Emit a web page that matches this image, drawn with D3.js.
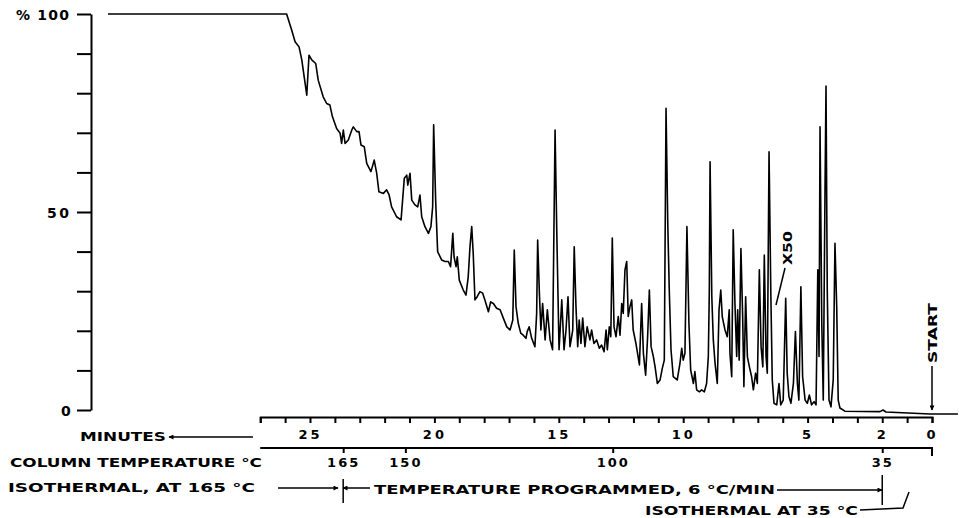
<!DOCTYPE html>
<html>
<head>
<meta charset="utf-8">
<script src="https://d3js.org/d3.v7.min.js"></script>
<style>
  body { margin:0; background:#fff; }
  svg { display:block; }
  text { font-family: "DejaVu Sans", sans-serif; font-weight: bold; fill: #000; }
  .axis path, .axis line { stroke: #000; stroke-width: 2; }
  .trace { fill: none; stroke: #000; stroke-width: 1.6; stroke-linejoin: round; }
  .note { stroke: #000; stroke-width: 1.5; fill: none; }
</style>
</head>
<body>
<script>
// chromatogram trace: [minutes, % response]
var chromatogram = [
  [33.12,100],[25.94,100],[25.74,96.0],[25.60,93.0],[25.44,91.7],[25.33,88.4],[25.13,79.5],[25.04,89.6],
  [24.93,88.4],[24.77,87.5],[24.67,83.3],[24.47,79.1],[24.33,77.4],[24.20,77.0],[24.10,74.1],[23.93,71.1],
  [23.79,69.9],[23.73,67.3],[23.66,70.7],[23.59,67.3],[23.46,68.2],[23.32,70.7],[23.26,71.5],[23.12,70.3],
  [23.03,70.3],[22.95,66.9],[22.82,66.5],[22.72,62.3],[22.55,60.2],[22.42,63.1],[22.32,59.8],[22.23,55.1],
  [22.05,54.7],[21.92,55.6],[21.82,54.3],[21.72,51.3],[21.52,48.8],[21.34,48.0],[21.21,58.5],[21.11,59.3],
  [21.07,56.8],[20.98,59.8],[20.91,53.0],[20.78,51.8],[20.67,51.3],[20.58,54.3],[20.51,48.8],[20.38,46.3],
  [20.24,44.6],[20.14,46.3],[20.07,51.3],[20.03,72.0],[19.95,53.0],[19.87,40.0],[19.71,37.9],[19.57,37.5],
  [19.44,37.5],[19.35,36.2],[19.26,44.6],[19.21,38.7],[19.13,36.2],[19.08,38.7],[19.00,32.8],[18.84,30.3],
  [18.73,29.0],[18.64,33.7],[18.57,41.2],[18.50,46.3],[18.44,39.6],[18.37,27.8],[18.28,28.6],[18.17,29.9],
  [18.06,29.5],[17.97,27.8],[17.83,24.8],[17.74,27.3],[17.63,26.9],[17.50,25.7],[17.36,25.3],[17.23,23.2],
  [17.09,21.0],[16.96,20.2],[16.85,22.7],[16.79,40.4],[16.72,26.1],[16.63,21.9],[16.53,19.4],[16.43,18.9],
  [16.32,18.1],[16.27,19.8],[16.19,21.0],[16.09,18.1],[15.96,16.0],[15.89,24.4],[15.85,42.9],[15.78,29.5],
  [15.72,20.2],[15.65,26.9],[15.55,17.7],[15.46,25.3],[15.35,17.7],[15.25,15.2],[15.15,70.7],[15.08,44.6],
  [14.99,15.2],[14.88,27.8],[14.79,15.2],[14.71,20.2],[14.63,28.6],[14.55,16.0],[14.44,20.2],[14.38,41.2],
  [14.31,26.1],[14.24,16.0],[14.18,22.7],[14.11,16.8],[14.04,23.2],[13.95,16.0],[13.86,21.0],[13.75,17.7],
  [13.68,20.2],[13.59,16.8],[13.48,17.7],[13.37,15.6],[13.28,16.4],[13.18,14.7],[13.10,20.2],[13.05,15.2],
  [12.97,21.0],[12.91,18.5],[12.85,43.4],[12.78,21.0],[12.70,18.5],[12.61,23.6],[12.54,18.9],[12.47,26.9],
  [12.41,24.4],[12.34,35.4],[12.27,37.5],[12.21,23.6],[12.14,26.1],[12.07,27.8],[12.01,20.2],[11.90,16.8],
  [11.76,11.4],[11.67,26.9],[11.60,14.3],[11.51,8.8],[11.43,18.5],[11.36,30.3],[11.29,16.0],[11.20,13.5],
  [11.13,10.9],[11.04,6.7],[10.93,7.6],[10.84,10.5],[10.76,12.6],[10.69,76.2],[10.62,47.1],[10.56,30.3],
  [10.49,15.2],[10.40,8.4],[10.24,7.6],[10.13,11.8],[10.06,15.6],[10.00,12.6],[9.93,14.3],[9.85,46.3],
  [9.77,21.9],[9.70,10.1],[9.59,6.7],[9.53,9.7],[9.46,5.1],[9.35,4.6],[9.26,5.1],[9.15,4.6],
  [9.06,6.7],[8.99,13.5],[8.95,30.3],[8.92,62.7],[8.85,28.6],[8.79,17.7],[8.72,11.8],[8.63,6.7],
  [8.56,25.3],[8.49,30.3],[8.43,23.6],[8.32,20.2],[8.23,18.5],[8.15,25.3],[8.12,14.3],[8.05,8.4],
  [7.99,45.5],[7.92,26.9],[7.85,13.5],[7.81,25.3],[7.75,12.6],[7.68,40.8],[7.61,23.6],[7.56,5.9],
  [7.49,28.6],[7.42,13.5],[7.34,10.9],[7.25,8.4],[7.18,5.1],[7.09,9.3],[7.02,6.7],[6.94,35.4],
  [6.87,16.0],[6.80,10.9],[6.74,39.1],[6.67,13.5],[6.62,9.3],[6.55,65.2],[6.48,30.3],[6.42,7.6],
  [6.35,1.7],[6.24,1.3],[6.15,6.7],[6.08,1.3],[5.98,2.5],[5.88,28.2],[5.82,9.3],[5.75,3.4],
  [5.67,1.7],[5.57,6.7],[5.49,19.8],[5.41,6.7],[5.35,2.5],[5.27,31.1],[5.20,8.4],[5.10,2.5],
  [5.01,1.7],[4.93,3.8],[4.84,1.3],[4.74,2.1],[4.66,1.3],[4.59,35.4],[4.54,13.5],[4.50,71.5],
  [4.43,21.9],[4.37,2.5],[4.30,55.6],[4.26,81.8],[4.21,30.3],[4.14,2.5],[4.06,0.8],[3.97,7.6],
  [3.90,42.1],[3.83,26.1],[3.77,2.5],[3.70,0.5],[3.50,-0.3],[2.09,-0.4],[1.97,0],[1.85,-0.5],
  [0.08,-1.0],[-1.04,-1.0]
];

var percentTicks = [0, 10, 20, 30, 40, 50, 60, 70, 80, 90, 100];
var percentLabels = [[100, "% 100", 53], [50, "50", 22], [0, "0", 8]];
var minuteTicks = [0, 1, 2, 3, 4, 5, 6, 7, 8, 9, 10, 11, 12, 13, 14, 15, 16, 17, 18, 19, 20, 21, 22, 23, 24, 25, 26, 27];
var minuteLabels = [25, 20, 15, 10, 5, 2, 0];
var tempTicks = [165, 150, 100, 35];
var programStart = 2;      // minutes, isothermal at 35 before this
var programRate = 6;       // deg C per minute
var tempLow = 35, tempHigh = 165;

var W = 959, H = 518;
var svg = d3.select("body").append("svg").attr("width", W).attr("height", H);

var defs = svg.append("defs");
defs.append("marker").attr("id", "head")
  .attr("viewBox", "0 0 10 10").attr("refX", 9).attr("refY", 5)
  .attr("markerWidth", 7).attr("markerHeight", 5).attr("markerUnits", "userSpaceOnUse")
  .attr("orient", "auto-start-reverse")
  .append("path").attr("d", "M0,0 L10,5 L0,10 Z").attr("fill", "#000");

var x = d3.scaleLinear().domain([0, 25]).range([932, 310]);
var y = d3.scaleLinear().domain([0, 100]).range([410, 14]);

// y axis
svg.append("g").attr("class", "axis")
  .attr("transform", "translate(91,0)")
  .call(d3.axisLeft(y).tickValues(percentTicks).tickSize(14).tickSizeOuter(0).tickFormat(""));

svg.selectAll(".ylab").data(percentLabels).enter().append("text")
  .attr("class", "ylab")
  .attr("x", d => 69 - d[2]).attr("y", d => y(d[0]) + 6)
  .attr("textLength", d => d[2]).attr("lengthAdjust", "spacing")
  .style("font-size", "14px")
  .text(d => d[1]);

// trace
var line = d3.line().x(d => x(d[0])).y(d => y(d[1]));
svg.append("path").datum(chromatogram).attr("class", "trace").attr("d", line);

// minutes axis
var xm = x.copy().domain([0, 27]).range([x(0), x(27)]);
var mAxis = svg.append("g").attr("class", "axis")
  .attr("transform", "translate(0,417)")
  .call(d3.axisBottom(xm).tickValues(minuteTicks).tickSize(6).tickSizeOuter(6)
    .tickFormat(d => minuteLabels.includes(d) ? d : ""));
mAxis.selectAll("text").attr("y", 22).attr("dy", 0)
  .style("font-size", "13px").style("letter-spacing", "3px").style("font-family", "DejaVu Sans");

// temperature axis
var progEnd = programStart + (tempHigh - tempLow) / programRate;
var tScale = d3.scaleLinear().domain([tempLow, tempHigh]).range([x(programStart), x(progEnd)]);
var tAxis = svg.append("g").attr("class", "axis")
  .attr("transform", "translate(0,448)")
  .call(d3.axisBottom(tScale).tickValues(tempTicks).tickSize(5).tickSizeOuter(0));
tAxis.select(".domain").remove();
tAxis.append("path").attr("d", "M" + xm(27) + ",0H" + xm(0) + "V8").attr("fill", "none");
tAxis.selectAll("text").attr("y", 19).attr("dy", 0)
  .style("font-size", "13px").style("letter-spacing", "2px").style("font-family", "DejaVu Sans");

function label(txt, x0, yb, len, size) {
  return svg.append("text").attr("x", x0).attr("y", yb)
    .attr("textLength", len).attr("lengthAdjust", "spacingAndGlyphs")
    .style("font-size", (size || 13) + "px").text(txt);
}

function arrow(x1, y1, x2, y2) {
  return svg.append("line").attr("class", "note")
    .attr("x1", x1).attr("y1", y1).attr("x2", x2).attr("y2", y2)
    .attr("marker-end", "url(#head)");
}

// row labels
label("MINUTES", 80, 441, 86);
arrow(253, 437, 169, 437);
label("COLUMN  TEMPERATURE °C", 10, 467, 252);
label("ISOTHERMAL, AT  165 °C", 8, 492, 247);
arrow(278, 488, 338, 488);
svg.append("line").attr("class", "note").attr("x1", tScale(tempHigh)).attr("x2", tScale(tempHigh))
  .attr("y1", 479).attr("y2", 503);
arrow(370, 488, 343, 488);
label("TEMPERATURE  PROGRAMMED,  6 °C/MIN", 374, 494, 401);
arrow(777, 490, 882, 490);
svg.append("line").attr("class", "note").attr("x1", tScale(tempLow)).attr("x2", tScale(tempLow))
  .attr("y1", 475).attr("y2", 505);
label("ISOTHERMAL  AT  35 °C", 645, 515, 213);
svg.append("path").attr("class", "note").attr("d", "M860,510 L903,508 L909,492");

// START marker
svg.append("text").attr("transform", "translate(937,333) rotate(-90)")
  .attr("text-anchor", "middle").attr("textLength", 60).attr("lengthAdjust", "spacingAndGlyphs")
  .style("font-size", "13px").text("START");
arrow(x(0), 366, x(0), 410);

// X50 marker
svg.append("text").attr("transform", "translate(792,248) rotate(-90)")
  .attr("text-anchor", "middle").attr("textLength", 34).attr("lengthAdjust", "spacingAndGlyphs")
  .style("font-size", "13px").text("X50");
svg.append("line").attr("class", "note").attr("x1", 785).attr("y1", 268).attr("x2", 776).attr("y2", 305);
</script>
</body>
</html>
